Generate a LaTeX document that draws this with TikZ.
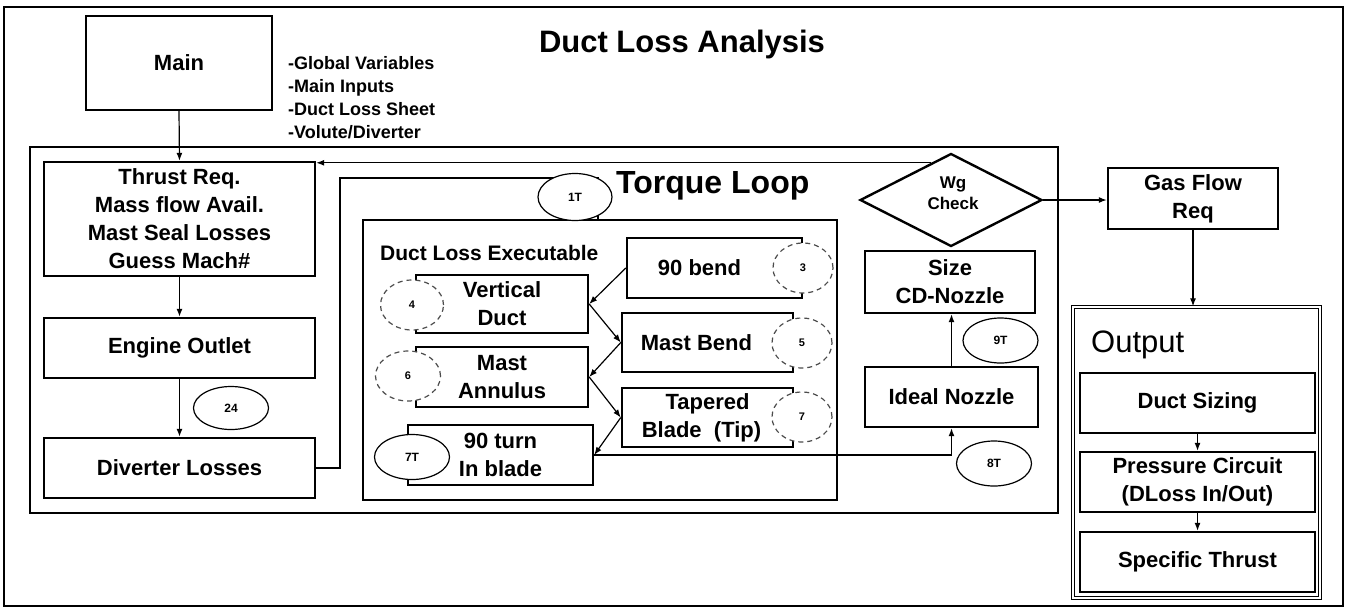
\documentclass[tikz,border=0pt]{standalone}
\usepackage{fontspec}
\setmainfont{Liberation Sans}
\usetikzlibrary{shapes.geometric,arrows.meta,calc}
\begin{document}
\begin{tikzpicture}[x=1pt,y=-1pt,
  box/.style={draw, line width=2.4pt, fill=white, rectangle, inner sep=0pt, align=center,
    font=\fontsize{22}{28}\selectfont\bfseries},
  frame/.style={draw, line width=2.4pt},
  conn/.style={line width=1.2pt, -{Latex[length=8pt,width=6pt]}},
  plain/.style={line width=1.2pt},
  numell/.style={ellipse, draw, line width=1.2pt, fill=white, inner sep=0pt,
    font=\fontsize{12}{12}\selectfont\bfseries},
  dashell/.style={ellipse, draw=black!70, line width=1.2pt, fill=white, inner sep=0pt,
    dash pattern=on 5pt off 4pt, font=\fontsize{11}{11}\selectfont\bfseries},
  lbl/.style={inner sep=0pt, font=\fontsize{18}{23}\selectfont\bfseries, align=left}
]
\useasboundingbox (0,0) rectangle (1348,608);
\fill[white] (0,0) rectangle (1348,608);
% outer frame
\draw[frame] (4,7) rectangle (1343,606);
\node[inner sep=0pt, font=\fontsize{31}{31}\selectfont\bfseries] (title) at (682,44) {Duct Loss Analysis};

% Main
\node[box, minimum width=186pt, minimum height=94pt] (main) at (179,63) {Main};
\node[lbl, anchor=north west] (notes) at (288,56) {-Global Variables\\-Main Inputs\\-Duct Loss Sheet\\-Volute/Diverter};

% torque loop frame
\node[draw, line width=2.4pt, rectangle, inner sep=0pt, minimum width=1028pt, minimum height=366pt] (tloop) at (544,330) {};
\node[inner sep=0pt, anchor=west, font=\fontsize{32}{32}\selectfont\bfseries] (tltitle) at (616,186) {Torque Loop};

% left column
\node[box, minimum width=271pt, minimum height=114pt] (thrust) at (179.5,219) {Thrust Req.\\Mass flow Avail.\\Mast Seal Losses\\Guess Mach\#};
\node[box, minimum width=271pt, minimum height=60pt] (engine) at (179.5,348) {Engine Outlet};
\node[box, minimum width=271pt, minimum height=60pt] (divert) at (179.5,468) {Diverter Losses};

% duct loss executable
\node[draw, line width=2.4pt, fill=white, rectangle, inner sep=0pt, minimum width=474pt, minimum height=280pt] (exec) at (600,360) {};
\node[inner sep=0pt, anchor=west, font=\fontsize{21}{21}\selectfont\bfseries] (exectitle) at (380,253) {Duct Loss Executable};

\node[box, minimum width=175pt, minimum height=60pt] (bend) at (714.5,268) {90 bend\hspace*{30pt}};
\node[box, minimum width=172pt, minimum height=58pt] (vduct) at (502,304) {Vertical\\Duct};
\node[box, minimum width=171pt, minimum height=59pt] (mbend) at (707.5,342.5) {Mast Bend\hspace*{22pt}};
\node[box, minimum width=172pt, minimum height=60pt] (annul) at (502,377) {Mast\\Annulus};
\node[box, minimum width=171pt, minimum height=59pt] (taper) at (707.5,417.5) {Tapered\\Blade\ \ (Tip)\hspace*{12pt}};
\node[box, minimum width=185pt, minimum height=60pt] (turn) at (500.5,455) {90 turn\\In blade};

% nozzle column
\node[box, minimum width=170pt, minimum height=62pt] (cdn) at (950,282) {Size\\CD-Nozzle};
\node[box, minimum width=173pt, minimum height=60pt] (ideal) at (951.5,397) {Ideal Nozzle};
\node[diamond, draw, line width=2.4pt, fill=white, inner sep=0pt, minimum width=182pt, minimum height=93pt] (wg) at (951,200) {};
\node[inner sep=0pt, align=center, font=\fontsize{17}{21}\selectfont\bfseries] (wgtext) at (953,193) {Wg\\Check};

% right column
\node[box, minimum width=170pt, minimum height=61pt] (gas) at (1193,198.5) {Gas Flow\\Req};
\node[draw, double, line width=1.3pt, double distance=1.6pt, rectangle, inner sep=0pt, minimum width=247pt, minimum height=291pt] (outbox) at (1196.5,452.5) {};
\node[inner sep=0pt, anchor=west, font=\fontsize{31}{31}\selectfont] (outtitle) at (1091,345) {Output};
\node[box, minimum width=235pt, minimum height=60pt] (dsize) at (1197.5,403) {Duct Sizing};
\node[box, minimum width=235pt, minimum height=60pt] (press) at (1197.5,482) {Pressure Circuit\\(DLoss In/Out)};
\node[box, minimum width=235pt, minimum height=60pt] (spec) at (1197.5,562) {Specific Thrust};

% connectors
\draw[conn] (main.south) -- (thrust.north);
\draw[conn] (thrust.south) -- (engine.north);
\draw[conn] (engine.south) -- (divert.north);
\coordinate (wgout) at ($(wg.north)!0.22!(wg.west)$);
\draw[conn] (wgout) -- (wgout -| thrust.east);
\coordinate (c1) at (340,178);
\coordinate (tin) at (598,220);
\draw[plain] (divert.east) -| (c1) -| (tin);
\draw[conn] (bend.west) -- (vduct.east);
\draw[conn] (vduct.east) -- (mbend.west);
\draw[conn] (mbend.west) -- (annul.east);
\draw[conn] (annul.east) -- (taper.west);
\draw[conn] (taper.west) -- (turn.east);
\draw[conn] (turn.east) -| (ideal.south);
\draw[conn] (ideal.north) -- (ideal.north |- cdn.south);
\draw[conn] (wg.east) -- (gas.west |- wg.east);
\draw[conn] (gas.south) -- (gas.south |- outbox.north);
\draw[conn] (dsize.south) -- (press.north);
\draw[conn] (press.south) -- (spec.north);

% ellipses
\node[numell, minimum width=75pt, minimum height=43pt] (e24) at (231,408) {24};
\node[numell, minimum width=74pt, minimum height=47pt] (e1t) at (575,197) {1T};
\node[dashell, minimum width=60pt, minimum height=50pt] (e3) at (803,268) {3};
\node[dashell, minimum width=63pt, minimum height=50pt] (e4) at (412,305) {4};
\node[dashell, minimum width=60pt, minimum height=50pt] (e5) at (802,343) {5};
\node[dashell, minimum width=65pt, minimum height=50pt] (e6) at (408,376) {6};
\node[dashell, minimum width=60pt, minimum height=50pt] (e7) at (802,417) {7};
\node[numell, minimum width=75pt, minimum height=45pt] (e7t) at (412,457) {7T};
\node[numell, minimum width=75pt, minimum height=45pt] (e9t) at (1000.5,340.5) {9T};
\node[numell, minimum width=75pt, minimum height=45pt] (e8t) at (994,463.5) {8T};
\end{tikzpicture}
\end{document}
